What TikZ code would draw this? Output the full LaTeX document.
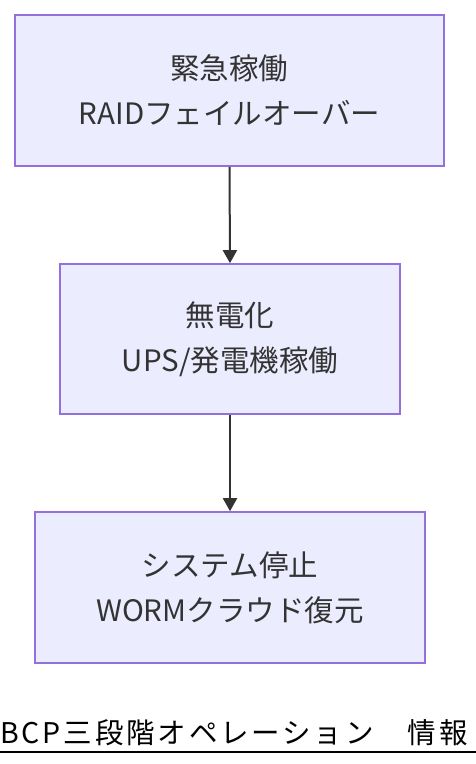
\documentclass[tikz,border=0pt]{standalone}
\usepackage{fontspec}
\setmainfont{Noto Sans CJK JP}
\newfontfamily\titlefont[LetterSpace=10]{Noto Sans CJK JP}
\usetikzlibrary{arrows.meta}
\definecolor{boxfill}{HTML}{ECECFF}
\definecolor{boxline}{HTML}{9370DB}
\definecolor{ink}{HTML}{333333}
\tikzset{
  stepbox/.style={draw=boxline, fill=boxfill, line width=1.6pt, text=ink, align=center,
    font=\fontsize{29.5}{45}\selectfont, inner sep=0pt},
  flow/.style={draw=ink, line width=2pt, -{Triangle[length=13pt,width=14pt]}}
}
\begin{document}
\begin{tikzpicture}[x=1pt,y=-1pt]
\useasboundingbox (0,0) rectangle (476,764);
\node[stepbox, minimum width=429pt, minimum height=151pt] (a) at (229.5,90.5) {緊急稼働\\RAIDフェイルオーバー};
\node[stepbox, minimum width=340pt, minimum height=150pt] (b) at (230,339) {無電化\\UPS/発電機稼働};
\node[stepbox, minimum width=390pt, minimum height=151pt] (c) at (230,587.5) {システム停止\\WORMクラウド復元};
\draw[flow] (a.south) -- (b.north);
\draw[flow] (b.south) -- (c.north);
\node[anchor=base west, inner sep=0pt, text=black, font=\titlefont\fontsize{28.5}{30}\selectfont] (t) at (0,743) {BCP三段階オペレーション　情報};
\coordinate (u1) at (0,752);
\coordinate (u2) at (476,752);
\draw[black, line width=2pt] (u1) -- (u2);
\end{tikzpicture}
\end{document}
